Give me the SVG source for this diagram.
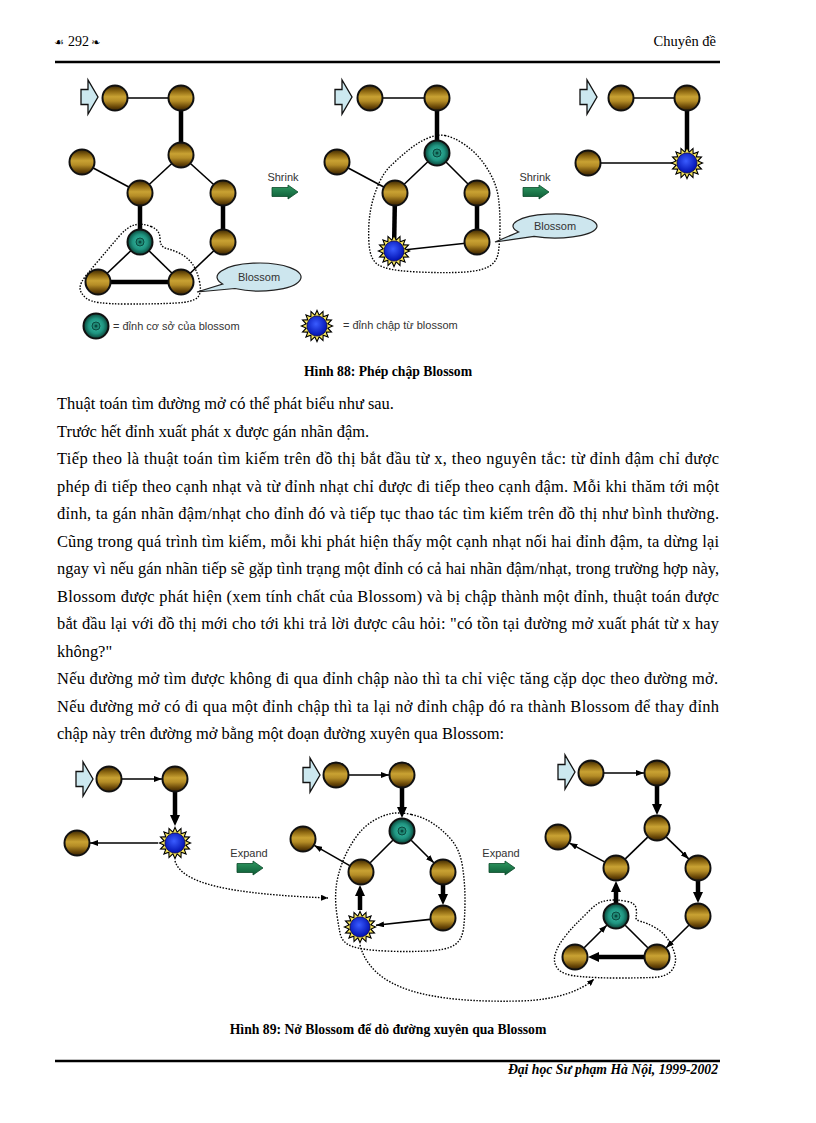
<svg xmlns="http://www.w3.org/2000/svg" xmlns:xlink="http://www.w3.org/1999/xlink" width="816" height="1123" viewBox="0 0 816 1123">
<style>
.thin{stroke:#000;stroke-width:1.6;fill:none}
.thick{stroke:#000;stroke-width:4.5;fill:none}
.dot{stroke:#000;stroke-width:1.4;fill:none;stroke-dasharray:1.5 1.5}
.lbl{font-family:"Liberation Sans",Arial,sans-serif;font-size:11px;fill:#333}
.body{font-family:"Liberation Serif","Times New Roman",serif;font-size:16.45px;fill:#000}
.cap{font-family:"Liberation Serif","Times New Roman",serif;font-weight:bold;font-size:13.7px;text-anchor:middle;fill:#000}
.callout{fill:#cde6ee;stroke:#222;stroke-width:1.2}
.start{fill:#cce8ef;stroke:#111;stroke-width:1.3}
.go{fill:url(#gg);stroke:#0b4a2a;stroke-width:0.8}
</style>
<defs>
<linearGradient id="gold" x1="0" y1="0" x2="0" y2="1">
<stop offset="0" stop-color="#3a2604"/>
<stop offset="0.22" stop-color="#8a6510"/>
<stop offset="0.45" stop-color="#c9a233"/>
<stop offset="0.62" stop-color="#b48c26"/>
<stop offset="0.85" stop-color="#6a4808"/>
<stop offset="1" stop-color="#362204"/>
</linearGradient>
<radialGradient id="teal" cx="0.5" cy="0.5" r="0.5">
<stop offset="0" stop-color="#3fc0a8"/>
<stop offset="0.6" stop-color="#1f9480"/>
<stop offset="1" stop-color="#0a4438"/>
</radialGradient>
<radialGradient id="blue" cx="0.45" cy="0.4" r="0.6">
<stop offset="0" stop-color="#3a5cff"/>
<stop offset="1" stop-color="#0010b0"/>
</radialGradient>
<linearGradient id="gg" x1="0" y1="0" x2="0" y2="1">
<stop offset="0" stop-color="#2f9a62"/>
<stop offset="1" stop-color="#0d5a35"/>
</linearGradient>
<marker id="ah" viewBox="0 0 8 6" refX="8" refY="3" markerWidth="8" markerHeight="6" markerUnits="userSpaceOnUse" orient="auto"><path d="M0,0 L8,3 L0,6 z" fill="#000"/></marker>
<marker id="ahb" viewBox="0 0 11 10" refX="1" refY="5" markerWidth="11" markerHeight="10" markerUnits="userSpaceOnUse" orient="auto"><path d="M0,0 L11,5 L0,10 z" fill="#000"/></marker>
<marker id="ahd" viewBox="0 0 7 6" refX="7" refY="3" markerWidth="7" markerHeight="6" markerUnits="userSpaceOnUse" orient="auto"><path d="M0,0 L7,3 L0,6 z" fill="#000"/></marker>
<g id="goldNode"><circle r="12.5" fill="url(#gold)" stroke="#111" stroke-width="2"/></g>
<g id="tealNode"><circle r="12.5" fill="url(#teal)" stroke="#111" stroke-width="2"/><circle r="4" fill="#1f8a76" stroke="#0a4a40" stroke-width="1"/><circle r="1.5" fill="#0a4a40"/></g>
<polygon id="starPts" points="17,0 11.77,2.34 15.71,6.51 9.98,6.67 12.02,12.02 6.67,9.98 6.51,15.71 2.34,11.77 0,17 -2.34,11.77 -6.51,15.71 -6.67,9.98 -12.02,12.02 -9.98,6.67 -15.71,6.51 -11.77,2.34 -17,0 -11.77,-2.34 -15.71,-6.51 -9.98,-6.67 -12.02,-12.02 -6.67,-9.98 -6.51,-15.71 -2.34,-11.77 0,-17 2.34,-11.77 6.51,-15.71 6.67,-9.98 12.02,-12.02 9.98,-6.67 15.71,-6.51 11.77,-2.34"/>
<g id="starNode"><use xlink:href="#starPts" href="#starPts" fill="#000"/><use xlink:href="#starPts" href="#starPts" fill="#f2e25a" transform="scale(0.84)"/><circle r="10" fill="url(#blue)" stroke="#000060" stroke-width="0.8"/></g>
<polygon id="startArrow" class="start" points="-17,-7.5 -10,-7.5 -10,-17 0,0 -10,17 -10,7.5 -17,7.5"/>
<polygon id="goArrow" class="go" points="0,-4.5 16,-4.5 16,-7 26,0 16,7 16,4.5 0,4.5"/>
</defs>
<rect width="816" height="1123" fill="#fff"/>

<!-- header -->
<g id="header">
<text x="54" y="46" font-family="DejaVu Sans,sans-serif" font-size="11" fill="#000">☙</text>
<text x="68" y="46" font-family="Liberation Serif,serif" font-size="14" fill="#000">292</text>
<text x="91" y="46" font-family="DejaVu Sans,sans-serif" font-size="11" fill="#000">❧</text>
<text x="716" y="46" font-family="Liberation Serif,serif" font-size="14.5" text-anchor="end" fill="#000">Chuyên đề</text>
<line x1="55" y1="62" x2="720" y2="62" stroke="#000" stroke-width="2.6"/>
</g>

<!-- ===== Figure 88 ===== -->
<g id="fig88-connectors">
<line class="thin" x1="115" y1="98" x2="181" y2="98"/>
<line class="thick" x1="181" y1="98" x2="181" y2="155"/>
<line class="thin" x1="181" y1="155" x2="140" y2="193"/>
<line class="thin" x1="181" y1="155" x2="223" y2="193"/>
<line class="thin" x1="82" y1="162" x2="140" y2="193"/>
<line class="thick" x1="140" y1="193" x2="140" y2="242"/>
<line class="thick" x1="223" y1="193" x2="223" y2="242"/>
<line class="thin" x1="140" y1="242" x2="98" y2="282"/>
<line class="thin" x1="140" y1="242" x2="181" y2="282"/>
<line class="thick" x1="98" y1="282" x2="181" y2="282"/>
<line class="thin" x1="223" y1="242" x2="181" y2="282"/>

<line class="thin" x1="370" y1="98" x2="437" y2="98"/>
<line class="thick" x1="437" y1="98" x2="437" y2="153"/>
<line class="thin" x1="437" y1="153" x2="395" y2="193"/>
<line class="thin" x1="437" y1="153" x2="477" y2="193"/>
<line class="thin" x1="337" y1="162" x2="395" y2="193"/>
<line class="thick" x1="395" y1="193" x2="394" y2="251"/>
<line class="thick" x1="477" y1="193" x2="477" y2="242"/>
<line class="thin" x1="394" y1="251" x2="477" y2="242"/>

<line class="thin" x1="621" y1="98" x2="687" y2="98"/>
<line class="thick" x1="687" y1="98" x2="687" y2="163"/>
<line class="thin" x1="588" y1="163" x2="687" y2="163"/>

<path class="dot" d="M151,226.5 Q160,230 160,238.5 Q160,247 166.5,248.5 Q173,250 180,253.5 Q187,257 192,263.5 Q197,270 199.5,281.5 Q202,293 197.5,297.5 Q193,302 176.5,303 Q160,304 126.5,304 Q93,304 86.5,298.5 Q80,293 80,288 Q80,283 86.5,275 Q93,267 101.5,257 Q110,247 118.5,237 Q127,227 134.5,225 Q142,223 151,226.5 Z"/>
<path class="dot" d="M445,135.5 Q453,137 463,143.5 Q473,150 480,158.5 Q487,167 492,177 Q497,187 498.5,198.5 Q500,210 500,225 Q500,240 498.5,251.5 Q497,263 487,267.5 Q477,272 455,272.5 Q433,273 410,271.5 Q387,270 378.5,265 Q370,260 369,243.5 Q368,227 370,213.5 Q372,200 377.5,186.5 Q383,173 391.5,165 Q400,157 408.5,150 Q417,143 427,138.5 Q437,134 445,135.5 Z"/>
</g>

<g id="fig88-left-nodes">
<g id="s88L"><use xlink:href="#startArrow" href="#startArrow" x="98" y="97"/></g>
<g id="n88L-A"><use xlink:href="#goldNode" href="#goldNode" x="115" y="98"/></g>
<g id="n88L-B"><use xlink:href="#goldNode" href="#goldNode" x="181" y="98"/></g>
<g id="n88L-C"><use xlink:href="#goldNode" href="#goldNode" x="181" y="155"/></g>
<g id="n88L-D"><use xlink:href="#goldNode" href="#goldNode" x="82" y="162"/></g>
<g id="n88L-E"><use xlink:href="#goldNode" href="#goldNode" x="140" y="193"/></g>
<g id="n88L-F"><use xlink:href="#goldNode" href="#goldNode" x="223" y="193"/></g>
<g id="n88L-G"><use xlink:href="#tealNode" href="#tealNode" x="140" y="242"/></g>
<g id="n88L-H"><use xlink:href="#goldNode" href="#goldNode" x="223" y="242"/></g>
<g id="n88L-I"><use xlink:href="#goldNode" href="#goldNode" x="98" y="282"/></g>
<g id="n88L-J"><use xlink:href="#goldNode" href="#goldNode" x="181" y="282"/></g>
<g id="callout88L"><path class="callout" d="M222.6,284 A42,14 0 1 1 234.9,288.5 L197,292 Z"/><text class="lbl" x="259" y="281" text-anchor="middle">Blossom</text></g>
</g>

<g id="shrink1"><text class="lbl" x="283" y="181" text-anchor="middle">Shrink</text><use xlink:href="#goArrow" href="#goArrow" x="272" y="192"/></g>

<g id="fig88-mid-nodes">
<g id="s88M"><use xlink:href="#startArrow" href="#startArrow" x="352" y="97"/></g>
<g id="n88M-A"><use xlink:href="#goldNode" href="#goldNode" x="370" y="98"/></g>
<g id="n88M-B"><use xlink:href="#goldNode" href="#goldNode" x="437" y="98"/></g>
<g id="n88M-C"><use xlink:href="#tealNode" href="#tealNode" x="437" y="153"/></g>
<g id="n88M-D"><use xlink:href="#goldNode" href="#goldNode" x="337" y="162"/></g>
<g id="n88M-E"><use xlink:href="#goldNode" href="#goldNode" x="395" y="193"/></g>
<g id="n88M-F"><use xlink:href="#goldNode" href="#goldNode" x="477" y="193"/></g>
<g id="n88M-G"><use xlink:href="#starNode" href="#starNode" x="394" y="251"/></g>
<g id="n88M-H"><use xlink:href="#goldNode" href="#goldNode" x="477" y="242"/></g>
<g id="callout88M"><path class="callout" d="M518.6,232 A42,12 0 1 1 534,236.4 L495,242 Z"/><text class="lbl" x="555" y="230" text-anchor="middle">Blossom</text></g>
</g>

<g id="shrink2"><text class="lbl" x="535" y="181" text-anchor="middle">Shrink</text><use xlink:href="#goArrow" href="#goArrow" x="523" y="192"/></g>

<g id="fig88-right-nodes">
<g id="s88R"><use xlink:href="#startArrow" href="#startArrow" x="597" y="97"/></g>
<g id="n88R-A"><use xlink:href="#goldNode" href="#goldNode" x="621" y="98"/></g>
<g id="n88R-B"><use xlink:href="#goldNode" href="#goldNode" x="687" y="98"/></g>
<g id="n88R-C"><use xlink:href="#starNode" href="#starNode" x="687" y="163"/></g>
<g id="n88R-D"><use xlink:href="#goldNode" href="#goldNode" x="588" y="163"/></g>
</g>

<g id="legend">
<g id="leg-teal"><use xlink:href="#tealNode" href="#tealNode" x="96" y="326"/></g>
<text class="lbl" x="113" y="330">= đỉnh cơ sở của blossom</text>
<g id="leg-star"><use xlink:href="#starNode" href="#starNode" x="317" y="326"/></g>
<text class="lbl" x="343" y="329">= đỉnh chập từ blossom</text>
</g>

<text class="cap" x="388" y="376">Hình 88: Phép chập Blossom</text>

<!-- body text -->
<g id="bodytext" class="body">
<text x="57" y="409">Thuật toán tìm đường mở có thể phát biểu như sau.</text>
<text x="57" y="436.5">Trước hết đỉnh xuất phát x được gán nhãn đậm.</text>
<text x="57" y="464" textLength="662" lengthAdjust="spacing">Tiếp theo là thuật toán tìm kiếm trên đồ thị bắt đầu từ x, theo nguyên tắc: từ đỉnh đậm chỉ được</text>
<text x="57" y="491.5" textLength="662" lengthAdjust="spacing">phép đi tiếp theo cạnh nhạt và từ đỉnh nhạt chỉ được đi tiếp theo cạnh đậm. Mỗi khi thăm tới một</text>
<text x="57" y="519" textLength="662" lengthAdjust="spacing">đỉnh, ta gán nhãn đậm/nhạt cho đỉnh đó và tiếp tục thao tác tìm kiếm trên đồ thị như bình thường.</text>
<text x="57" y="546.5" textLength="662" lengthAdjust="spacing">Cũng trong quá trình tìm kiếm, mỗi khi phát hiện thấy một cạnh nhạt nối hai đỉnh đậm, ta dừng lại</text>
<text x="57" y="574" textLength="662" lengthAdjust="spacing">ngay vì nếu gán nhãn tiếp sẽ gặp tình trạng một đỉnh có cả hai nhãn đậm/nhạt, trong trường hợp này,</text>
<text x="57" y="601.5" textLength="662" lengthAdjust="spacing">Blossom được phát hiện (xem tính chất của Blossom) và bị chập thành một đỉnh, thuật toán được</text>
<text x="57" y="629" textLength="662" lengthAdjust="spacing">bắt đầu lại với đồ thị mới cho tới khi trả lời được câu hỏi: "có tồn tại đường mở xuất phát từ x hay</text>
<text x="57" y="656.5">không?"</text>
<text x="57" y="684" textLength="661" lengthAdjust="spacing">Nếu đường mở tìm được không đi qua đỉnh chập nào thì ta chỉ việc tăng cặp dọc theo đường mở.</text>
<text x="57" y="711.5" textLength="662" lengthAdjust="spacing">Nếu đường mở có đi qua một đỉnh chập thì ta lại nở đỉnh chập đó ra thành Blossom để thay đỉnh</text>
<text x="57" y="739">chập này trên đường mở bằng một đoạn đường xuyên qua Blossom:</text>
</g>

<!-- ===== Figure 89 ===== -->
<g id="fig89-connectors">
<line class="thin" x1="122" y1="779" x2="162" y2="779" marker-end="url(#ah)"/>
<line class="thick" x1="175" y1="792" x2="175" y2="816" marker-end="url(#ahb)"/>
<line class="thin" x1="158" y1="843" x2="90" y2="843" marker-end="url(#ah)"/>

<line class="thin" x1="349" y1="775" x2="389" y2="775" marker-end="url(#ah)"/>
<line class="thick" x1="402" y1="788" x2="402" y2="808" marker-end="url(#ahb)"/>
<line class="thin" x1="392.8" y1="840.2" x2="370.2" y2="862.8"/>
<line class="thin" x1="411.2" y1="840.2" x2="433.8" y2="862.8" marker-end="url(#ah)"/>
<line class="thin" x1="349.7" y1="865.6" x2="314.3" y2="845.4" marker-end="url(#ah)"/>
<line class="thick" x1="360" y1="910" x2="360" y2="895" marker-end="url(#ahb)"/>
<line class="thick" x1="443" y1="885" x2="443" y2="895" marker-end="url(#ahb)"/>
<line class="thin" x1="430.1" y1="919.4" x2="376" y2="925.3" marker-end="url(#ah)"/>

<line class="thin" x1="604" y1="773" x2="644" y2="773" marker-end="url(#ah)"/>
<line class="thick" x1="657" y1="786" x2="657" y2="805" marker-end="url(#ahb)"/>
<line class="thin" x1="647.7" y1="837.1" x2="625.3" y2="858.9"/>
<line class="thin" x1="666.3" y1="837.1" x2="688.7" y2="858.9" marker-end="url(#ah)"/>
<line class="thin" x1="604.5" y1="861.9" x2="569.5" y2="843.1" marker-end="url(#ah)"/>
<line class="thick" x1="616" y1="903" x2="616" y2="891" marker-end="url(#ahb)"/>
<line class="thick" x1="698" y1="881" x2="698" y2="893" marker-end="url(#ahb)"/>
<line class="thin" x1="688.8" y1="925.2" x2="666.2" y2="947.8" marker-end="url(#ah)"/>
<line class="thick" x1="644" y1="957" x2="598" y2="957" marker-end="url(#ahb)"/>
<line class="thin" x1="584.2" y1="947.8" x2="606.8" y2="925.2" marker-end="url(#ah)"/>
<line class="thin" x1="625.2" y1="925.2" x2="647.8" y2="947.8"/>

<path class="dot" d="M411.5,814.5 Q423,817 433,823.5 Q443,830 451.5,840 Q460,850 462.5,866.5 Q465,883 465,900 Q465,917 463.5,928.5 Q462,940 454.5,945 Q447,950 427,951 Q407,952 385,951 Q363,950 352.5,946.5 Q342,943 340,933 Q338,923 336.5,911.5 Q335,900 336,888.5 Q337,877 342,863.5 Q347,850 355,838.5 Q363,827 373,821 Q383,815 391.5,813.5 Q400,812 411.5,814.5 Z"/>
<path class="dot" d="M627.5,901.5 Q635,903 636,908 Q637,913 636,916.5 Q635,920 641,921.5 Q647,923 655,927.5 Q663,932 668,939.5 Q673,947 675,955 Q677,963 672,970 Q667,977 652,977.5 Q637,978 617,978 Q597,978 580,976.5 Q563,975 558,969 Q553,963 555,955 Q557,947 563.5,938.5 Q570,930 576.5,923.5 Q583,917 590,910 Q597,903 602.5,901.5 Q608,900 614,900 Q620,900 627.5,901.5 Z"/>
<path class="dot" d="M175,861 C182,884 230,894 328,898" marker-end="url(#ahd)"/>
<path class="dot" d="M360,945 C372,990 430,1003 520,1001 C558,1000 582,990 594,979" marker-end="url(#ahd)"/>
</g>

<g id="fig89-left-nodes">
<g id="s89L"><use xlink:href="#startArrow" href="#startArrow" x="93" y="779"/></g>
<g id="n89L-a"><use xlink:href="#goldNode" href="#goldNode" x="109" y="779"/></g>
<g id="n89L-b"><use xlink:href="#goldNode" href="#goldNode" x="175" y="779"/></g>
<g id="n89L-c"><use xlink:href="#starNode" href="#starNode" x="175" y="843"/></g>
<g id="n89L-d"><use xlink:href="#goldNode" href="#goldNode" x="77" y="843"/></g>
</g>

<g id="expand1"><text class="lbl" x="249" y="857" text-anchor="middle">Expand</text><use xlink:href="#goArrow" href="#goArrow" x="237" y="868"/></g>

<g id="fig89-mid-nodes">
<g id="s89M"><use xlink:href="#startArrow" href="#startArrow" x="320" y="775"/></g>
<g id="n89M-a"><use xlink:href="#goldNode" href="#goldNode" x="336" y="775"/></g>
<g id="n89M-b"><use xlink:href="#goldNode" href="#goldNode" x="402" y="775"/></g>
<g id="n89M-c"><use xlink:href="#tealNode" href="#tealNode" x="402" y="831"/></g>
<g id="n89M-d"><use xlink:href="#goldNode" href="#goldNode" x="303" y="839"/></g>
<g id="n89M-e"><use xlink:href="#goldNode" href="#goldNode" x="361" y="872"/></g>
<g id="n89M-f"><use xlink:href="#goldNode" href="#goldNode" x="443" y="872"/></g>
<g id="n89M-g"><use xlink:href="#starNode" href="#starNode" x="360" y="927"/></g>
<g id="n89M-h"><use xlink:href="#goldNode" href="#goldNode" x="443" y="918"/></g>
</g>

<g id="expand2"><text class="lbl" x="501" y="857" text-anchor="middle">Expand</text><use xlink:href="#goArrow" href="#goArrow" x="489" y="868"/></g>

<g id="fig89-right-nodes">
<g id="s89R"><use xlink:href="#startArrow" href="#startArrow" x="575" y="772"/></g>
<g id="n89R-a"><use xlink:href="#goldNode" href="#goldNode" x="591" y="773"/></g>
<g id="n89R-b"><use xlink:href="#goldNode" href="#goldNode" x="657" y="773"/></g>
<g id="n89R-c"><use xlink:href="#goldNode" href="#goldNode" x="657" y="828"/></g>
<g id="n89R-d"><use xlink:href="#goldNode" href="#goldNode" x="558" y="837"/></g>
<g id="n89R-e"><use xlink:href="#goldNode" href="#goldNode" x="616" y="868"/></g>
<g id="n89R-f"><use xlink:href="#goldNode" href="#goldNode" x="698" y="868"/></g>
<g id="n89R-g"><use xlink:href="#tealNode" href="#tealNode" x="616" y="916"/></g>
<g id="n89R-h"><use xlink:href="#goldNode" href="#goldNode" x="698" y="916"/></g>
<g id="n89R-i"><use xlink:href="#goldNode" href="#goldNode" x="575" y="957"/></g>
<g id="n89R-j"><use xlink:href="#goldNode" href="#goldNode" x="657" y="957"/></g>
</g>

<text class="cap" x="388" y="1034">Hình 89: Nở Blossom để dò đường xuyên qua Blossom</text>

<g id="footer">
<line x1="55" y1="1061" x2="720" y2="1061" stroke="#000" stroke-width="2.6"/>
<text x="718" y="1074" font-family="Liberation Serif,serif" font-size="13.7" font-weight="bold" font-style="italic" text-anchor="end" fill="#000">Đại học Sư phạm Hà Nội, 1999-2002</text>
</g>
</svg>
